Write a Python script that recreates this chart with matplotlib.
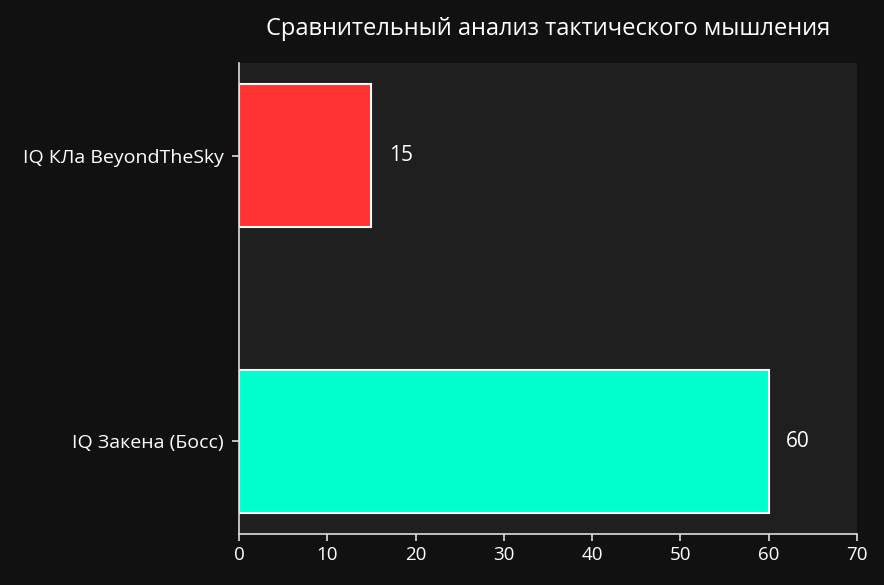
import matplotlib
matplotlib.use("Agg")
import matplotlib.pyplot as plt

categories = ["IQ Закена (Босс)", "IQ КЛа BeyondTheSky"]
values = [60, 15]
colors = ["#00ffcc", "#ff3333"]
title = "Сравнительный анализ тактического мышления"
xticks = [0, 10, 20, 30, 40, 50, 60, 70]

plt.rcParams['font.family'] = ['Open Sans', 'DejaVu Sans']

fig = plt.figure(figsize=(8.84, 5.85), dpi=100, facecolor="#111111")
ax = fig.add_axes([239/884, 1-534/585, (857-239)/884, (534-63)/585])
ax.set_facecolor("#1f1f1f")

bars = ax.barh(categories, values, height=0.5, color=colors, edgecolor="white", linewidth=1.5)
for i, v in enumerate(values):
    ax.text(v + 2, i, str(v), color="white", fontsize=15, ha="left", va="center")

ax.set_xlim(0, 70)
ax.set_xticks(xticks)
ax.set_title(title, color="white", fontsize=17, pad=20)
for s in ["top", "right"]:
    ax.spines[s].set_visible(False)
for s in ["left", "bottom"]:
    ax.spines[s].set_color("#dddddd")
    ax.spines[s].set_linewidth(1.2)
ax.tick_params(colors="#dddddd", labelcolor="white", length=5, width=1.2)
ax.tick_params(axis="y", labelsize=14, pad=6)
ax.tick_params(axis="x", labelsize=13.5)

fig.savefig("out.png", dpi=100, facecolor=fig.get_facecolor())
